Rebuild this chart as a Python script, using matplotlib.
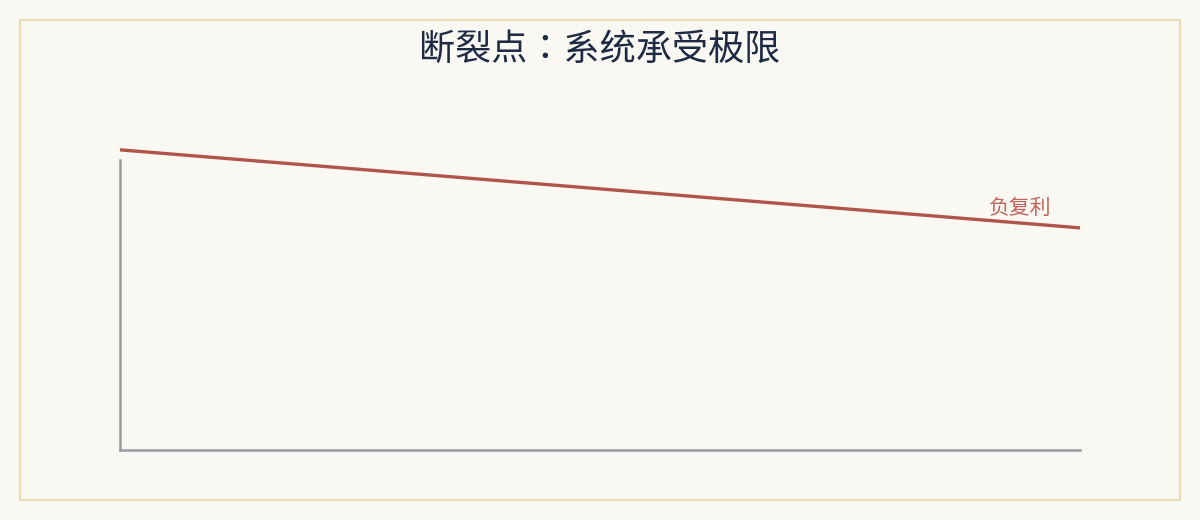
import matplotlib
matplotlib.use("Agg")
import matplotlib.pyplot as plt
from matplotlib.patches import Rectangle

plt.rcParams['font.family'] = ['Noto Sans CJK SC', 'DejaVu Sans']

title = "断裂点：系统承受极限"
series_label = "负复利"
x_vals = [0, 10]
y_vals = [103.5, 76.6]

BG = "#f9f8f3"
fig = plt.figure(figsize=(12, 5.2), dpi=100, facecolor=BG)
fig.patches.append(Rectangle((20/1200, 20/520), 1160/1200, 480/520, transform=fig.transFigure,
                             fill=False, edgecolor="#ecdcb4", linewidth=1.6, zorder=0))

ax = fig.add_axes([120/1200, (520-450)/520, 960/1200, 290/520])
ax.set_facecolor(BG)
ax.plot(x_vals, y_vals, color="#b0554a", linewidth=2.4, clip_on=False, solid_capstyle='butt')
ax.set_xlim(0, 10)
ax.set_ylim(0, 100)
for s in ['top', 'right']:
    ax.spines[s].set_visible(False)
for s in ['left', 'bottom']:
    ax.spines[s].set_color("#9a9aa0")
    ax.spines[s].set_linewidth(1.8)
ax.set_xticks([])
ax.set_yticks([])

ax.text(9.7, 83.5, series_label, color="#c0645a", fontsize=15, ha='right', va='center')

fig.text(0.5, 1 - 50/520, title, ha='center', va='center', fontsize=26,
         color="#1f2a44", family=['Noto Sans CJK TC', 'Noto Sans CJK SC', 'DejaVu Sans'])

fig.savefig("out.png", dpi=100, facecolor=BG)
